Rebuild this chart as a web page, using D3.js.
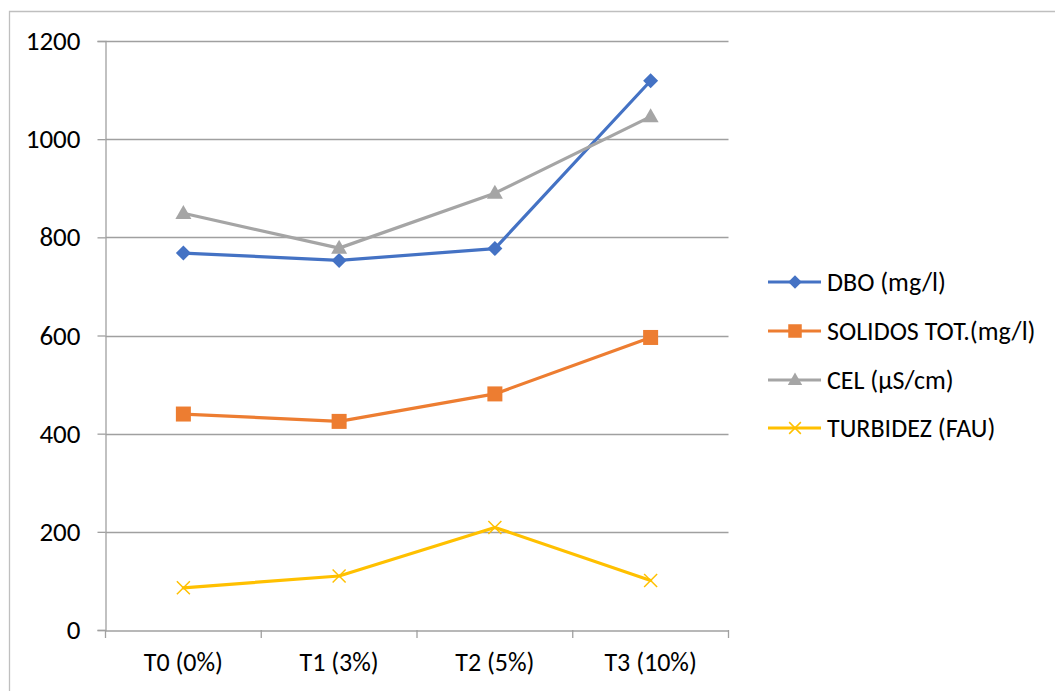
<!DOCTYPE html>
<html><head><meta charset="utf-8">
<script src="https://cdn.jsdelivr.net/npm/d3@7"></script>
<style>body{margin:0;background:#fff}svg{display:block}text{font-family:Calibri,Carlito,"Open Sans","Noto Sans",sans-serif;fill:#000}</style>
</head><body><svg id="c" width="1055" height="691"></svg>
<script>
const categories = ["T0 (0%)","T1 (3%)","T2 (5%)","T3 (10%)"];
const seriesNames = ["DBO (mg/l)","SOLIDOS TOT.(mg/l)","CEL (µS/cm)","TURBIDEZ (FAU)"];
const dbo = [768, 753, 777, 1119];
const solidos = [440, 425, 481, 596];
const cel = [849, 778, 890, 1046];
const turbidez = [86, 110, 209, 101];
const yTicks = [0,200,400,600,800,1000,1200];
const colors = ["#4472C4","#ED7D31","#A5A5A5","#FFC000"];
const symbolsT = ["diamond","square","triangle","x"];

const series = [dbo, solidos, cel, turbidez].map((v,i)=>({name:seriesNames[i], values:v, color:colors[i], sym:symbolsT[i]}));
const FF = "Calibri,Carlito,'Open Sans','Noto Sans',sans-serif";

const svg = d3.select("#c");
svg.append("path").attr("d","M9.5,691 V11.5 H1055").attr("fill","none").attr("stroke","#BFBFBF").attr("stroke-width",1.3);

const L=105.5, R=728.5, T=41, B=630;
const x = d3.scaleBand().domain(categories).range([L,R]);
const y = d3.scaleLinear().domain([0,1200]).range([B,T]);

svg.append("g").selectAll("line").data(yTicks.filter(d=>d>0)).join("line")
 .attr("x1",L).attr("x2",R).attr("y1",d=>Math.round(y(d))+0.5).attr("y2",d=>Math.round(y(d))+0.5)
 .attr("stroke","#A0A0A0").attr("stroke-width",1.3);

const yAxis = svg.append("g").attr("transform",`translate(${L},0)`)
 .call(d3.axisLeft(y).tickValues(yTicks).tickSize(8).tickPadding(17).tickFormat(d3.format("d")));
yAxis.select(".domain").attr("stroke","#A0A0A0").attr("stroke-width",1.3);
yAxis.selectAll(".tick line").attr("stroke","#A0A0A0").attr("stroke-width",1.3);
yAxis.selectAll(".tick text").attr("font-size",27).attr("fill","#000").style("font-family",FF);

const xAxis = svg.append("g").attr("transform",`translate(0,${B+0.5})`)
 .call(d3.axisBottom(x).tickSize(0).tickPadding(22));
xAxis.select(".domain").attr("stroke","#A0A0A0").attr("stroke-width",1.3);
xAxis.selectAll(".tick text").attr("font-size",26).attr("fill","#000").style("font-family",FF);
const bounds = categories.map(c=>x(c)).concat([R]);
svg.append("g").selectAll("line").data(bounds).join("line")
 .attr("x1",d=>d).attr("x2",d=>d).attr("y1",B).attr("y2",B+8)
 .attr("stroke","#A0A0A0").attr("stroke-width",1.3);

const cx = c => x(c)+x.bandwidth()/2;
const line = d3.line().x((d,i)=>cx(categories[i])).y(d=>y(d));

function marker(g, type, color, px, py, scale){
  const s = scale||1;
  if(type==="diamond"){
    const r=7.5*s;
    g.append("path").attr("d",`M${px},${py-r}L${px+r},${py}L${px},${py+r}L${px-r},${py}Z`).attr("fill",color);
  } else if(type==="square"){
    g.append("rect").attr("x",px-7.5*s).attr("y",py-7.5*s).attr("width",15*s).attr("height",15*s).attr("fill",color);
  } else if(type==="triangle"){
    const h=14*s, w=16*s;
    g.append("path").attr("d",`M${px},${py-h*0.6}L${px+w/2},${py+h*0.4}L${px-w/2},${py+h*0.4}Z`).attr("fill",color);
  } else {
    const r=6.5*s;
    g.append("path").attr("d",`M${px-r},${py-r}L${px+r},${py+r}M${px-r},${py+r}L${px+r},${py-r}`).attr("stroke",color).attr("stroke-width",1.5).attr("fill","none");
  }
}

const plot = svg.append("g");
series.forEach(s=>{
  plot.append("path").datum(s.values).attr("d",line).attr("fill","none").attr("stroke",s.color).attr("stroke-width",3.2).attr("stroke-linejoin","round").attr("stroke-linecap","round");
});
series.forEach(s=>{
  const g = plot.append("g");
  s.values.forEach((v,i)=>marker(g,s.sym,s.color,cx(categories[i]),y(v)));
});

const legY = [282,331,380,428];
const leg = svg.append("g");
series.forEach((s,i)=>{
  const ly = legY[i];
  leg.append("line").attr("x1",768).attr("x2",821).attr("y1",ly).attr("y2",ly).attr("stroke",s.color).attr("stroke-width",3.2);
  marker(leg,s.sym,s.color,795,ly,0.9);
  leg.append("text").attr("x",827).attr("y",ly).attr("dy","0.35em").attr("font-size",26).text(s.name);
});
</script></body></html>
